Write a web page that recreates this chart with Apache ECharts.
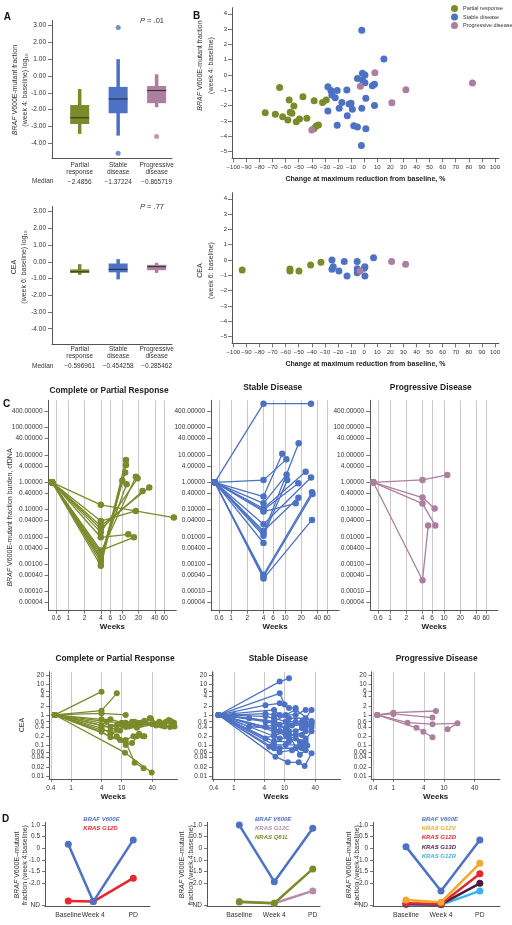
<!DOCTYPE html>
<html><head><meta charset="utf-8">
<script src="https://cdn.jsdelivr.net/npm/echarts@6/dist/echarts.min.js"></script>
<style>html,body{margin:0;padding:0;background:#fff}#c{width:512px;height:925px}</style>
</head><body><div id="c"></div>
<script>
// ---------- DATA ----------
const respGroups = ['Partial response', 'Stable disease', 'Progressive disease'];
const boxCategories = ['Partial\nresponse', 'Stable\ndisease', 'Progressive\ndisease'];
// [low whisker, Q1, median, Q3, high whisker]
const boxBrafWeek4 = [[-3.45, -2.86, -2.49, -1.73, -0.78], [-3.55, -2.22, -1.37, -0.65, 1.0], [-1.86, -1.62, -0.87, -0.6, 0.1]];
const outliersBrafWeek4 = [[1, 2.88], [1, -4.6], [2, -3.6]];
const mediansBrafWeek4 = ['\u22122.4856', '\u22121.37224', '\u22120.865719'];
const boxCeaWeek6 = [[-0.78, -0.66, -0.6, -0.45, -0.14], [-1.05, -0.63, -0.45, -0.1, 0.16], [-0.66, -0.5, -0.29, -0.18, -0.06]];
const mediansCeaWeek6 = ['\u22120.596961', '\u22120.454258', '\u22120.285462'];
const pValues = ['.01', '.77'];
const boxYTicks = [-4, -3, -2, -1, 0, 1, 2, 3];

const scatterXTicks = [-100, -90, -80, -70, -60, -50, -40, -30, -20, -10, 0, 10, 20, 30, 40, 50, 60, 70, 80, 90, 100];
const scatterYTicks = [-5, -4, -3, -2, -1, 0, 1, 2, 3, 4];
const brafPR = [[-75.6, -2.46], [-67.9, -2.57], [-64.6, -0.81], [-62.3, -2.72], [-57.3, -1.63], [-58.3, -2.94], [-56.5, -2.44], [-55.2, -2.5], [-53.7, -2.03], [-51.9, -3.05], [-49.4, -2.88], [-46.8, -1.42], [-43.8, -2.83], [-38.2, -1.68], [-38.2, -3.49], [-36.6, -3.33], [-34.9, -3.27], [-31.8, -1.79], [-29, -1.63]];
const brafSD = [[-1.8, 2.92], [15.1, 1.05], [-27.7, -0.76], [-25.4, -1.02], [-24.7, -1.31], [-22.1, -1.48], [-20.6, -1.02], [-27.7, -2.35], [-17, -1.79], [-20.6, -3.29], [-19.1, -2.18], [-13.2, -0.98], [-12.9, -2.66], [-11.5, -1.9], [-10, -1.85], [-9, -2.24], [-7.9, -3.31], [-5.1, -3.4], [-5.1, -0.22], [-1.8, -2.18], [-1.3, 0.11], [0.6, 0], [-1.3, -0.33], [0.6, -0.5], [-2.1, -4.6], [1.3, -1.52], [1.3, -3.51], [7.9, -2.0], [6.3, -0.7], [7.9, -0.61]];
const brafPD = [[-2.9, -0.74], [8.2, 0.15], [21.2, -1.81], [31.9, -0.96], [82.8, -0.52], [-40, -3.59]];
const ceaPR = [[-93.2, -0.65], [-56.7, -0.59], [-56.7, -0.72], [-49.8, -0.72], [-40.9, -0.33], [-33, -0.15]];
const ceaSD = [[-24.6, 0], [-23.6, -0.44], [-24.6, -0.61], [-19.3, -0.72], [-15.2, -0.09], [-13.1, -1.05], [-5.3, -0.09], [-5.3, -0.57], [-5.3, -0.83], [0.6, -0.44], [0.1, -0.54], [0.6, -1.05], [7.2, 0.15]];
const ceaPD = [[-3, -0.72], [21, -0.09], [31.7, -0.28]];

const cfdnaTitles = ['Complete or Partial Response', 'Stable Disease', 'Progressive Disease'];
const cfdnaWeekTicks = [0.6, 1, 2, 4, 6, 10, 20, 40, 60];
const cfdnaValueTicks = [0.00004, 0.0001, 0.0004, 0.001, 0.004, 0.01, 0.04, 0.1, 0.4, 1, 4, 10, 40, 100, 400];
const cfdnaPR = [
  [[0.5, 1], [4, 0.15], [90, 0.051]],
  [[0.5, 1], [4, 0.038], [17.8, 0.089]],
  [[0.5, 1], [4, 0.025], [31.6, 0.65]],
  [[0.5, 1], [4, 0.02], [23.7, 0.48]],
  [[0.5, 1], [4, 0.015], [19.2, 1.4]],
  [[0.5, 1], [4, 0.0097], [12.9, 0.0125]],
  [[0.5, 1], [4, 0.0032], [16.4, 0.0097]],
  [[0.5, 1], [4, 0.0027], [17.8, 1.6]],
  [[0.5, 1], [4, 0.0022], [12, 0.85]],
  [[0.5, 1], [4, 0.0018], [11.3, 2.26]],
  [[0.5, 1], [4, 0.0015], [11.7, 4.3]],
  [[0.5, 1], [4, 0.0012], [11.7, 6.6]],
  [[0.5, 1], [4, 0.00088], [10, 1.15]]
];
const cfdnaSD = [
  [[0.5, 1], [4, 755], [30.3, 755]],
  [[0.5, 1], [4, 1.2], [10.6, 6.9]],
  [[0.5, 1], [4, 0.3], [8.9, 11]],
  [[0.5, 1], [4, 0.17], [10.7, 1.9]],
  [[0.5, 1], [4, 0.11], [24.1, 2.45]],
  [[0.5, 1], [4, 0.097], [17.7, 0.92]],
  [[0.5, 1], [4, 0.085], [15.8, 0.17]],
  [[0.5, 1], [4, 0.029], [30.3, 1.5]],
  [[0.5, 1], [4, 0.0166], [17.7, 0.27]],
  [[0.5, 1], [4, 0.0137], [17.9, 26.8]],
  [[0.5, 1], [4, 0.011], [11, 1.2]],
  [[0.5, 1], [4, 0.006]],
  [[0.5, 1], [4, 0.00041], [31.6, 0.43]],
  [[0.5, 1], [4, 0.00035], [32.3, 0.37]],
  [[0.5, 1], [4, 0.0003], [31.6, 0.042]]
];
const cfdnaPD = [
  [[0.49, 1], [4, 1.22], [11.5, 1.86]],
  [[0.49, 1], [4, 0.275], [6.7, 0.11]],
  [[0.49, 1], [4, 0.166], [6.9, 0.026]],
  [[0.49, 1], [4, 0.00026], [5.1, 0.026]]
];

const ceaWeekTicks = [0.4, 1, 4, 10, 40];
const ceaValueTicks = [0.01, 0.02, 0.04, 0.06, 0.1, 0.2, 0.4, 0.6, 1, 2, 4, 6, 10, 20];
const ceaTrajPR = [
  [[0.48, 1], [4, 5.8]],
  [[0.48, 1], [4, 1.38], [8, 5.1]],
  [[0.48, 1], [4, 1.13], [12, 1.0]],
  [[0.48, 1], [4, 0.72], [6, 0.72], [13, 0.5], [18, 0.6], [24, 0.55], [40, 0.5], [55, 0.52], [75, 0.6], [100, 0.45]],
  [[0.48, 1], [4, 0.37], [6, 0.25], [9.3, 0.31], [12, 0.55], [16, 0.6], [28, 0.65], [36, 0.8]],
  [[0.48, 1], [4, 0.28], [6, 0.185], [9.3, 0.15], [12, 0.104], [16, 0.12], [20, 0.2], [26, 0.2]],
  [[0.48, 1], [11.6, 0.058], [39, 0.013]],
  [[0.48, 1], [12, 0.13], [18, 0.027], [27, 0.018]],
  [[0.48, 1], [4, 0.45], [8, 0.33], [13, 0.45], [20, 0.55], [38, 0.75], [60, 0.45], [90, 0.4]],
  [[0.48, 1], [5, 0.6], [10, 0.55], [14, 0.42], [24, 0.5], [48, 0.45], [70, 0.42], [110, 0.42]],
  [[0.48, 1], [4, 0.32], [6, 0.3], [8, 0.2], [12, 0.15], [17, 0.2], [22, 0.24], [28, 0.2]],
  [[0.48, 1], [6, 0.4], [10, 0.5], [16, 0.45], [30, 0.55], [55, 0.6], [85, 0.68], [108, 0.55]],
  [[0.48, 1], [8, 0.45], [12, 0.4], [20, 0.38], [45, 0.5], [65, 0.5], [95, 0.62]]
];
const ceaTrajSD = [
  [[0.5, 1], [8, 12.4], [12.2, 15.9]],
  [[0.5, 1], [8, 5.1], [10, 2.2]],
  [[0.5, 1], [4.2, 2.1], [8, 2.4], [12.2, 1.7], [16.5, 1.7]],
  [[0.5, 1], [6.2, 1.46], [8, 1.0], [16.5, 1.0], [26, 1.46]],
  [[0.5, 1], [1, 1.0], [4.2, 1.1], [6.2, 1.0], [12.2, 0.78], [26, 0.78], [34, 1.46]],
  [[0.5, 1], [4.2, 0.9], [6.2, 0.78], [10.5, 0.6], [22, 0.6], [34, 0.63]],
  [[0.5, 1], [2, 0.78], [6.2, 0.6], [12.2, 0.47], [22, 0.47], [34, 0.55]],
  [[0.5, 1], [4.2, 0.41], [6.2, 0.47], [10.5, 0.37], [16.5, 0.6], [26, 0.37], [34, 0.5]],
  [[0.5, 1], [2, 0.41], [6.2, 0.37], [8, 0.29], [16.5, 0.29], [22, 0.37]],
  [[0.5, 1], [6.2, 0.29], [10.5, 0.22], [16.5, 0.22], [26, 0.29]],
  [[0.5, 1], [4.2, 0.17], [6.2, 0.22], [8, 0.17], [12.2, 0.17], [22, 0.22]],
  [[0.5, 1], [6.2, 0.134], [12.2, 0.134], [16.5, 0.17], [26, 0.134]],
  [[0.5, 1], [6.2, 0.104], [10.5, 0.104], [22, 0.104], [34, 0.29]],
  [[0.5, 1], [6.2, 0.081], [8, 0.081], [16.5, 0.081], [22, 0.081], [26, 0.104]],
  [[0.5, 1], [6.6, 0.043], [11.6, 0.028], [19, 0.028], [24.8, 0.021], [34, 0.055]],
  [[0.5, 1], [5, 0.09], [8, 0.06], [14, 0.07], [20, 0.09], [28, 0.1]],
  [[0.5, 1], [6.2, 0.6], [10.5, 1.0], [16.5, 1.5], [34, 0.6]],
  [[0.5, 1], [4.2, 0.6], [8, 0.47], [12.2, 0.29], [20, 0.13], [26, 0.17]],
  [[0.5, 1], [6.2, 0.2], [10.5, 0.3], [14, 0.45], [26, 0.5], [34, 0.4]],
  [[0.5, 1], [8, 0.3], [12.2, 0.22], [20, 0.05], [26, 0.07]]
];
const ceaTrajPD = [
  [[0.48, 1], [1, 1.19], [6.9, 1.35]],
  [[0.48, 1], [1, 1.08], [5.9, 0.82]],
  [[0.48, 1], [1.9, 0.56], [5.9, 0.5], [18.4, 0.53], [11.7, 0.34]],
  [[0.48, 1], [2.85, 0.38], [3.9, 0.28], [5.9, 0.186]]
];

const dCategories = ['Baseline', 'Week 4', 'PD'];
const dYTickValues = [1, 0.5, 0, -0.5, -1, -1.5, -2.45];
const dYTickLabels = ['1.0', '0.5', '0', '-1.0', '-1.5', '-2.0', 'ND'];
const dX1 = [0, 1, 2.6], dX2 = [0, 1, 2.1], dX3 = [0, 1, 2.11];
const d1Braf = [0.17, -2.3, 0.36], d1KrasG12D = [-2.27, -2.3, -1.29];
const d2Braf = [1.0, -1.44, 0.86], d2KrasG12C = [-2.3, -2.37, -1.84], d2NrasQ61L = [-2.32, -2.37, -0.89];
const d3Braf = [0.07, -1.84, 0.36], d3KrasG12V = [-2.23, -2.33, -0.65], d3KrasG12D = [-2.37, -2.4, -1.1], d3KrasG13D = [-2.4, -2.42, -1.51], d3KrasG12R = [-2.42, -2.44, -1.84];
const dLegend1 = ['BRAF V600E', 'KRAS G12D'];
const dLegend2 = ['BRAF V600E', 'KRAS G12C', 'NRAS Q61L'];
const dLegend3 = ['BRAF V600E', 'KRAS G12V', 'KRAS G12D', 'KRAS G13D', 'KRAS G12R'];

// ---------- STYLE ----------
const FONT = "'Liberation Sans', Arial, sans-serif";
const C_PR = '#7b8b2b', C_SD = '#4d72c4', C_PD = '#ab7f9d';
const groupColors = [C_PR, C_SD, C_PD];
const D_BLUE = '#4d72c4', D_RED = '#e8262b', D_MAUVE = '#b58cab', D_OLIVE = '#7b8b2b', D_ORANGE = '#f0a92e', D_DARK = '#4b1a45', D_CYAN = '#39b4e6';
const AXC = '#555', TXT = '#333';

function merge(a, b) { const o = Object.assign({}, a); for (const k in b) { if (b[k] && typeof b[k] === 'object' && !Array.isArray(b[k]) && typeof o[k] === 'object') o[k] = merge(o[k], b[k]); else o[k] = b[k]; } return o; }
function mkAxis(gi, type, min, max, extra) {
  const ax = { gridIndex: gi, type, min, max,
    axisLine: { show: true, onZero: false, lineStyle: { color: AXC, width: 1 } },
    axisTick: { show: true, length: 3, lineStyle: { color: AXC, width: 0.8 } },
    axisLabel: { show: true, fontSize: 6.5, fontFamily: FONT, color: TXT, margin: 5, showMinLabel: true, showMaxLabel: true, hideOverlap: false },
    splitLine: { show: false } };
  if (type === 'log') ax.logBase = 10;
  return merge(ax, extra || {});
}
const minusFmt = v => (v < 0 ? '\u2212' + (-v) : String(v));

const grids = [
  [52, 20.5, 120, 137.8], [52, 206.6, 120, 137.2],
  [232, 7.7, 266.9, 150.7], [232, 192.7, 266.9, 150.7],
  [48.5, 400.3, 127.8, 210.4], [211.2, 400.3, 127.8, 210.4], [370.2, 400.3, 127.8, 210.4],
  [49.1, 671.8, 128.4, 107.1], [212, 671.8, 128.4, 107.1], [371.5, 671.8, 128.4, 107.1],
  [45, 822.3, 105, 84.4], [207, 822.3, 113, 84.4], [373, 822.3, 127, 84.4]
].map(g => ({ left: g[0], top: g[1], width: g[2], height: g[3] }));

const xAxes = [], yAxes = [];
// A
[mediansBrafWeek4, mediansCeaWeek6].forEach((med, k) => {
  xAxes.push(mkAxis(k, 'value', -0.72, 2.4, {
    axisTick: { show: false },
    axisLabel: { customValues: [0, 1, 2], margin: k === 0 ? 3 : 1.5,
      formatter: v => { const i = Math.round(v); const p = boxCategories[i].split('\n'); return '{a|' + p[0] + '}\n{a|' + p[1] + '}\n{m|' + med[i] + '}'; },
      rich: { a: { fontSize: 6.5, lineHeight: 7.5, fontFamily: FONT, color: TXT }, m: { fontSize: 6.5, lineHeight: 11, fontFamily: FONT, color: TXT } } }
  }));
  yAxes.push(mkAxis(k, 'value', -4.9, 3.3, {
    axisTick: { customValues: boxYTicks, length: 4 },
    axisLabel: { customValues: boxYTicks, formatter: v => v.toFixed(2), margin: 6 }
  }));
});
// B
[2, 3].forEach(gi => {
  xAxes.push(mkAxis(gi, 'value', -101, 103, {
    name: 'Change at maximum reduction from baseline, %', nameLocation: 'middle', nameGap: 17.4,
    nameTextStyle: { fontSize: 7, fontWeight: 'bold', fontFamily: FONT, color: '#222' },
    axisTick: { customValues: scatterXTicks, length: 4 },
    axisLabel: { customValues: scatterXTicks, formatter: minusFmt, fontSize: 6, margin: 5.5 }
  }));
  yAxes.push(mkAxis(gi, 'value', -5.45, 4.4, {
    axisTick: { customValues: scatterYTicks, length: 4 },
    axisLabel: { customValues: scatterYTicks, formatter: minusFmt, fontSize: 6, margin: 5 }
  }));
});
// C top
[4, 5, 6].forEach(gi => {
  xAxes.push(mkAxis(gi, 'log', 0.43, 100, {
    name: 'Weeks', nameLocation: 'middle', nameGap: 12,
    nameTextStyle: { fontSize: 8, fontWeight: 'bold', fontFamily: FONT, color: '#222' },
    axisTick: { customValues: cfdnaWeekTicks, length: 3 },
    axisLabel: { customValues: cfdnaWeekTicks, formatter: v => String(v), margin: 4 },
    splitLine: { show: true, lineStyle: { color: '#c9c9c9', width: 1 } }
  }));
  yAxes.push(mkAxis(gi, 'log', 0.00002, 1000, {
    axisTick: { customValues: cfdnaValueTicks, length: 4 },
    axisLabel: { customValues: cfdnaValueTicks, formatter: v => v.toFixed(5), margin: 6 }
  }));
});
// C bottom
[7, 8, 9].forEach(gi => {
  xAxes.push(mkAxis(gi, 'log', 0.37, 126, {
    name: 'Weeks', nameLocation: 'middle', nameGap: 13.5,
    nameTextStyle: { fontSize: 8, fontWeight: 'bold', fontFamily: FONT, color: '#222' },
    axisTick: { customValues: ceaWeekTicks, length: 3 },
    axisLabel: { customValues: ceaWeekTicks, formatter: v => String(v), margin: 5.5 },
    splitLine: { show: true, lineStyle: { color: '#c9c9c9', width: 1 } }
  }));
  yAxes.push(mkAxis(gi, 'log', 0.008, 26, {
    axisTick: { customValues: ceaValueTicks, length: 3 },
    axisLabel: { customValues: ceaValueTicks, formatter: v => String(v), margin: 5 }
  }));
});
// D (the first label of each panel sits on its own overlay axis so that close labels are never auto-hidden)
const dSpecs = [[10, dX1, -0.932, 3.27], [11, dX2, -0.923, 2.306], [12, dX3, -0.943, 2.686]];
dSpecs.forEach(([gi, dx, mn, mx]) => {
  xAxes.push(mkAxis(gi, 'value', mn, mx, {
    axisTick: { show: false },
    axisLabel: { customValues: dx.slice(1), formatter: v => dCategories[dx.indexOf(v)], fontSize: 6.8, margin: 5 }
  }));
  yAxes.push(mkAxis(gi, 'value', -2.52, 1.12, {
    axisTick: { customValues: dYTickValues, length: 3 },
    axisLabel: { customValues: dYTickValues, formatter: v => dYTickLabels[dYTickValues.indexOf(v)], fontSize: 6.5, margin: 5 }
  }));
});
dSpecs.forEach(([gi, dx, mn, mx]) => {
  xAxes.push(mkAxis(gi, 'value', mn, mx, {
    position: 'bottom', axisLine: { show: false }, axisTick: { show: false },
    axisLabel: { customValues: dx.slice(0, 1), formatter: v => dCategories[dx.indexOf(v)], fontSize: 6.8, margin: 5 }
  }));
});

// ---------- SERIES ----------
const series = [];
function boxRender(params, api) {
  const x = api.value(0);
  const lo = api.coord([x, api.value(1)]), q1 = api.coord([x, api.value(2)]), md = api.coord([x, api.value(3)]), q3 = api.coord([x, api.value(4)]), hi = api.coord([x, api.value(5)]);
  const w = 19, col = groupColors[Math.round(x)];
  return { type: 'group', children: [
    { type: 'line', shape: { x1: lo[0], y1: lo[1], x2: hi[0], y2: hi[1] }, style: { stroke: col, lineWidth: 3.5 } },
    { type: 'rect', shape: { x: q3[0] - w / 2, y: q3[1], width: w, height: q1[1] - q3[1] }, style: { fill: col } },
    { type: 'line', shape: { x1: md[0] - w / 2, y1: md[1], x2: md[0] + w / 2, y2: md[1] }, style: { stroke: '#2b2b2b', lineWidth: 1 } }
  ] };
}
[boxBrafWeek4, boxCeaWeek6].forEach((bx, k) => {
  series.push({ type: 'custom', name: 'box' + k, xAxisIndex: k, yAxisIndex: k, renderItem: boxRender,
    encode: { x: 0, y: [1, 2, 3, 4, 5] }, data: bx.map((b, i) => [i].concat(b)), silent: true });
});
series.push({ type: 'scatter', name: 'outliers', xAxisIndex: 0, yAxisIndex: 0, symbolSize: 5, silent: true,
  data: outliersBrafWeek4.map(p => ({ value: p, itemStyle: { color: groupColors[p[0]] } })) });

[[brafPR, brafSD, brafPD, 2], [ceaPR, ceaSD, ceaPD, 3]].forEach(([a, b, c, gi]) => {
  [a, b, c].forEach((d, i) => series.push({ type: 'scatter', name: respGroups[i], xAxisIndex: gi, yAxisIndex: gi,
    data: d, symbolSize: 7, itemStyle: { color: groupColors[i], opacity: 1 }, silent: true }));
});

function traj(list, gi, color, size, width, tag) {
  list.forEach((t, i) => series.push({ type: 'line', name: tag + i, xAxisIndex: gi, yAxisIndex: gi, data: t,
    symbol: 'circle', symbolSize: size, showSymbol: true, lineStyle: { color, width }, itemStyle: { color },
    silent: true, z: 3 }));
}
traj(cfdnaPR, 4, C_PR, 6.5, 1.3, 'cp');
traj(cfdnaSD, 5, C_SD, 6.5, 1.3, 'cs');
traj(cfdnaPD, 6, C_PD, 6.5, 1.3, 'cd');
traj(ceaTrajPR, 7, C_PR, 6, 1.3, 'ep');
traj(ceaTrajSD, 8, C_SD, 6, 1.3, 'es');
traj(ceaTrajPD, 9, C_PD, 6, 1.3, 'ed');

function dLine(dx, vals, gi, color, tag) {
  series.push({ type: 'line', name: tag, xAxisIndex: gi, yAxisIndex: gi, data: dx.map((x, i) => [x, vals[i]]),
    symbol: 'circle', symbolSize: 7, lineStyle: { color, width: 2.5 }, itemStyle: { color }, silent: true, z: 3 });
}
dLine(dX1, d1KrasG12D, 10, D_RED, 'd1k');
dLine(dX1, d1Braf, 10, D_BLUE, 'd1b');
dLine(dX2, d2KrasG12C, 11, D_MAUVE, 'd2k');
dLine(dX2, d2NrasQ61L, 11, D_OLIVE, 'd2n');
dLine(dX2, d2Braf, 11, D_BLUE, 'd2b');
dLine(dX3, d3KrasG12R, 12, D_CYAN, 'd3r');
dLine(dX3, d3KrasG13D, 12, D_DARK, 'd3g13');
dLine(dX3, d3KrasG12D, 12, D_RED, 'd3d');
dLine(dX3, d3KrasG12V, 12, D_ORANGE, 'd3v');
dLine(dX3, d3Braf, 12, D_BLUE, 'd3b');

// ---------- TEXT ----------
function T(x, y, text, o) {
  o = o || {};
  return { type: 'text', x, y, rotation: o.rot || 0, silent: true, z: 10,
    style: { text, fill: o.color || TXT, fontSize: o.size || 7, fontFamily: o.family || FONT,
      fontWeight: o.weight || 'normal', fontStyle: o.style || 'normal',
      align: o.align || 'center', verticalAlign: 'middle', lineHeight: o.lh || undefined,
      rich: o.rich || undefined } };
}
const R90 = Math.PI / 2;
const italicRich = { i: { fontStyle: 'italic', fontSize: 7, fontFamily: FONT, fill: TXT } };
const g = [];
g.push(T(7.3, 17.3, 'A', { size: 10, weight: 'bold', color: '#111' }));
g.push(T(196.7, 16, 'B', { size: 10, weight: 'bold', color: '#111' }));
g.push(T(6.7, 404.3, 'C', { size: 10, weight: 'bold', color: '#111' }));
g.push(T(5.5, 819, 'D', { size: 10, weight: 'bold', color: '#111' }));
g.push(T(152, 20.7, '{p|P} = ' + pValues[0], { size: 7.5, rich: { p: { fontStyle: 'italic', fontSize: 7.5, fontFamily: FONT } } }));
g.push(T(152, 206.7, '{p|P} = ' + pValues[1], { size: 7.5, rich: { p: { fontStyle: 'italic', fontSize: 7.5, fontFamily: FONT } } }));
g.push(T(42.7, 181, 'Median', { size: 6.5 }));
g.push(T(42.7, 366, 'Median', { size: 6.5 }));
g.push(T(20, 90, '{i|BRAF} V600E-mutant fraction\n(week 4: baseline) log\u2081\u2080', { rot: R90, lh: 10, rich: italicRich }));
g.push(T(19, 267, 'CEA\n(week 6: baseline) log\u2081\u2080', { rot: R90, lh: 10 }));
g.push(T(205.5, 65.5, '{i|BRAF} V600E-mutant fraction\n(week 4: baseline)', { rot: R90, lh: 11, rich: italicRich }));
g.push(T(205.5, 270.5, 'CEA\n(week 6: baseline)', { rot: R90, lh: 11 }));
g.push(T(10, 517.5, '{i|BRAF} V600E-mutant fraction burden, cfDNA', { rot: R90, rich: italicRich }));
g.push(T(21.7, 725, 'CEA', { rot: R90 }));
[[109, 391], [272.7, 388], [430.8, 388]].forEach((p, i) => g.push(T(p[0], p[1], cfdnaTitles[i], { size: 8.4, weight: 'bold', color: '#222' })));
[[115, 658.3], [278.3, 658.3], [436.7, 658.3]].forEach((p, i) => g.push(T(p[0], p[1], cfdnaTitles[i], { size: 8.4, weight: 'bold', color: '#222' })));
[21, 186.7, 353].forEach(x => g.push(T(x, 865, '{i|BRAF} V600E\u2013mutant\nfraction (week 4:baseline)', { rot: R90, lh: 8.5, rich: italicRich })));
const dLegendSpec = [[83.3, dLegend1, [D_BLUE, D_RED]], [255, dLegend2, [D_BLUE, D_MAUVE, D_OLIVE]], [421.7, dLegend3, [D_BLUE, D_ORANGE, D_RED, D_DARK, D_CYAN]]];
dLegendSpec.forEach(([x, names, cols]) => names.forEach((n, i) => g.push(T(x, 819 + i * 9.4, n, { align: 'left', size: 6, weight: 'bold', style: 'italic', color: cols[i] }))));

const chart = echarts.init(document.getElementById('c'), null, { renderer: 'canvas' });
chart.setOption({
  backgroundColor: '#fff', animation: false,
  grid: grids, xAxis: xAxes, yAxis: yAxes, series,
  legend: { data: respGroups, orient: 'vertical', left: 451, top: 5, itemWidth: 7, itemHeight: 7, itemGap: 1.5, icon: 'circle',
    padding: 0, selectedMode: false, textStyle: { fontSize: 5.5, fontFamily: FONT, color: TXT } },
  graphic: { elements: g }
});
</script></body></html>
